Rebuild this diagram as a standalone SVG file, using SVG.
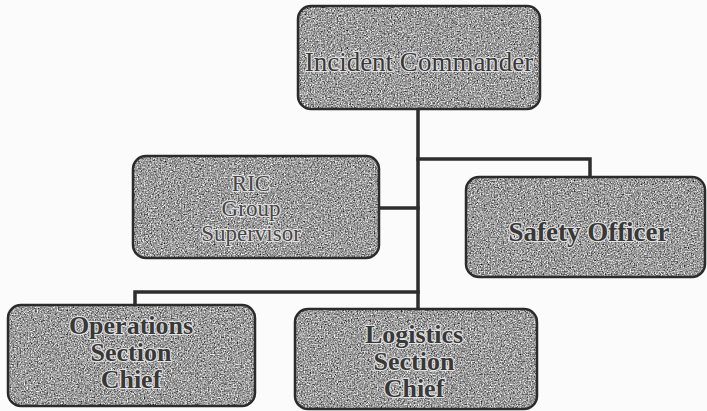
<svg xmlns="http://www.w3.org/2000/svg" width="707" height="411" viewBox="0 0 707 411">
<defs>
<filter id="grain" x="0" y="0" width="100%" height="100%" color-interpolation-filters="sRGB">
<feTurbulence type="fractalNoise" baseFrequency="0.7" numOctaves="2" seed="7" result="noise"/>
<feColorMatrix in="noise" type="matrix" values="0.33 0.33 0.33 0 0  0.33 0.33 0.33 0 0  0.33 0.33 0.33 0 0  0 0 0 0 1" result="gray"/>
<feComponentTransfer in="gray" result="contrast">
<feFuncR type="linear" slope="2.2" intercept="-0.48"/>
<feFuncG type="linear" slope="2.2" intercept="-0.48"/>
<feFuncB type="linear" slope="2.2" intercept="-0.48"/>
</feComponentTransfer>
<feComposite in="contrast" in2="SourceAlpha" operator="in"/>
</filter>
</defs>
<style>
.fill{fill:#9c9c9c;filter:url(#grain)}
.frame{fill:none;stroke:#2b2b2b;stroke-width:2.5}
.conn{fill:none;stroke:#2e2e2e;stroke-width:3.5;stroke-linecap:square}
.t{font-family:"Liberation Serif","Times New Roman",serif;text-anchor:middle;dominant-baseline:central;fill:#383838;stroke:#e4e4e4;stroke-width:2.2;paint-order:stroke;stroke-linejoin:round}
.reg{font-size:27px}
.small{font-size:23px;fill:#464646}
.bold{font-weight:bold;font-size:27px}
.b26{font-weight:bold;font-size:26px}
</style>
<rect width="707" height="411" fill="#fbfbfb"/>
<g id="connectors">
<path class="conn" d="M418 109 V309"/>
<path class="conn" d="M418 159 H590 V177"/>
<path class="conn" d="M379 208 H418"/>
<path class="conn" d="M135 305 V292 H418"/>
</g>
<g id="incident-commander">
<rect class="fill" x="298" y="6" width="242" height="103" rx="13"/>
<rect class="frame" x="298" y="6" width="242" height="103" rx="13"/>
<text class="t reg" x="419" y="62">Incident Commander</text>
</g>
<g id="ric-group-supervisor">
<rect class="fill" x="133" y="156" width="246" height="102" rx="13"/>
<rect class="frame" x="133" y="156" width="246" height="102" rx="13"/>
<text class="t small" x="251" y="183">RIC</text>
<text class="t small" x="251" y="208">Group</text>
<text class="t small" x="251" y="233">Supervisor</text>
</g>
<g id="safety-officer">
<rect class="fill" x="466" y="177" width="239" height="100" rx="13"/>
<rect class="frame" x="466" y="177" width="239" height="100" rx="13"/>
<text class="t bold" x="589" y="232">Safety Officer</text>
</g>
<g id="operations-section-chief">
<rect class="fill" x="8" y="305" width="247" height="101" rx="13"/>
<rect class="frame" x="8" y="305" width="247" height="101" rx="13"/>
<text class="t b26" x="131" y="325">Operations</text>
<text class="t b26" x="131" y="352">Section</text>
<text class="t b26" x="131" y="379">Chief</text>
</g>
<g id="logistics-section-chief">
<rect class="fill" x="295" y="309" width="242" height="100" rx="13"/>
<rect class="frame" x="295" y="309" width="242" height="100" rx="13"/>
<text class="t b26" x="414" y="334">Logistics</text>
<text class="t b26" x="414" y="361">Section</text>
<text class="t b26" x="414" y="388">Chief</text>
</g>
</svg>
